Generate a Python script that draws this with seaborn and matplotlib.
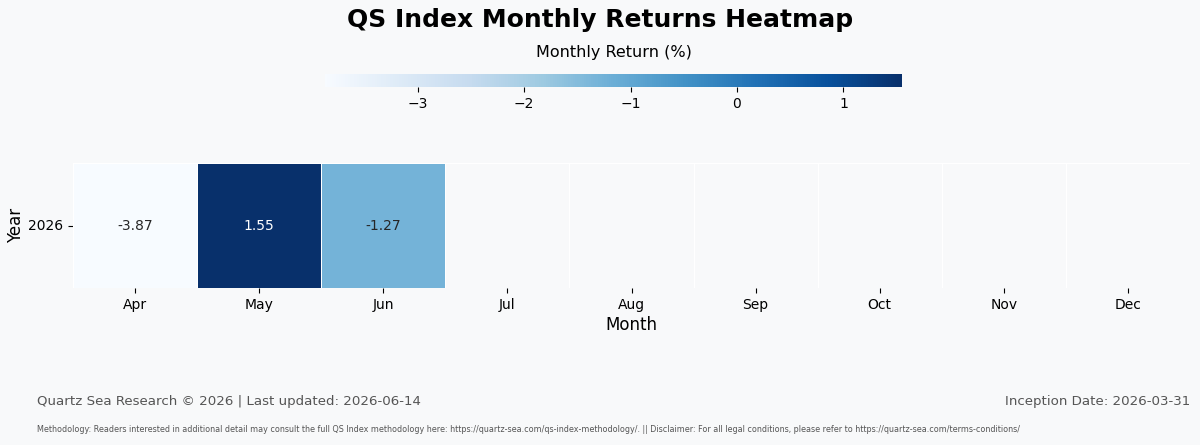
import numpy as np
import pandas as pd
import seaborn as sns
import matplotlib.pyplot as plt

# =====
# data

years = ["2026"]
months = ["Apr", "May", "Jun", "Jul", "Aug", "Sep", "Oct", "Nov", "Dec"]
returns_2026 = [-3.87, 1.55, -1.27, np.nan, np.nan, np.nan, np.nan, np.nan, np.nan]

bg = "#f8f9fa"

returns = pd.DataFrame([returns_2026], index=years, columns=months)

# ====
# plot

sns.set_style("white")
plt.rcParams["font.family"] = ["DejaVu Sans"]
plt.rcParams["text.color"] = "black"
plt.rcParams["axes.labelcolor"] = "black"
plt.rcParams["xtick.color"] = "black"
plt.rcParams["ytick.color"] = "black"

fig = plt.figure(figsize=(12, 4.45), dpi=100)
fig.patch.set_facecolor(bg)

ax = fig.add_axes([73 / 1200, 1 - 288 / 445, 1117 / 1200, 125 / 445])
cax = fig.add_axes([325 / 1200, 1 - 87 / 445, 577 / 1200, 13 / 445])
ax.set_facecolor(bg)

sns.heatmap(
    returns,
    ax=ax,
    cbar_ax=cax,
    cmap="Blues",
    annot=True,
    fmt=".2f",
    annot_kws={"fontsize": 10},
    linewidths=0.6,
    linecolor="white",
    cbar_kws={"orientation": "horizontal"},
)

ax.set_xlabel("Month", fontsize=12, labelpad=3)
ax.set_ylabel("Year", fontsize=12, labelpad=2)
ax.tick_params(axis="both", labelsize=10, length=3.5, width=0.8, bottom=True, left=True)
ax.set_yticklabels(ax.get_yticklabels(), rotation=0)
ax.set_xticklabels(ax.get_xticklabels(), rotation=0)

cax.set_xlabel("Monthly Return (%)", fontsize=11.5, labelpad=12)
cax.xaxis.set_label_position("top")
cax.tick_params(labelsize=10, length=3.5, width=0.8, bottom=True, pad=4)
cax.set_xticks([-3, -2, -1, 0, 1])
cax.set_xticklabels(["\u22123", "\u22122", "\u22121", "0", "1"])
for s in cax.spines.values():
    s.set_visible(False)

fig.text(0.5, 1 - 20 / 445, "QS Index Monthly Returns Heatmap", ha="center", va="center",
         fontsize=18, fontweight="bold")

fig.text(37 / 1200, 1 - 402 / 445, "Quartz Sea Research \u00a9 2026 | Last updated: 2026-06-14",
         ha="left", va="center", fontsize=9.6, color="#555555")
fig.text(1190 / 1200, 1 - 402 / 445, "Inception Date: 2026-03-31",
         ha="right", va="center", fontsize=9.6, color="#555555")
fig.text(37 / 1200, 1 - 430 / 445,
         "Methodology: Readers interested in additional detail may consult the full QS Index methodology here: "
         "https://quartz-sea.com/qs-index-methodology/. || Disclaimer: For all legal conditions, please refer to "
         "https://quartz-sea.com/terms-conditions/",
         ha="left", va="center", fontsize=5.75, color="#555555")

fig.savefig("out.png", dpi=100, facecolor=bg)
